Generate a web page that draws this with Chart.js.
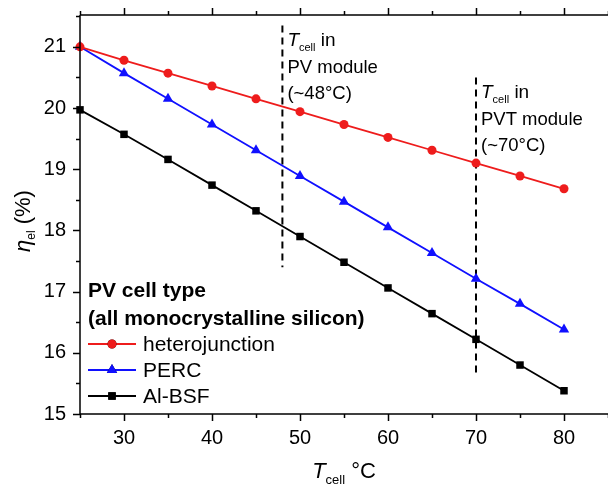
<!DOCTYPE html>
<html>
<head>
<meta charset="utf-8">
<script src="https://cdn.jsdelivr.net/npm/chart.js@4/dist/chart.umd.min.js"></script>
<style>
html, body { margin: 0; padding: 0; background: #fff; }
#wrap { width: 608px; height: 484px; position: relative; }
</style>
</head>
<body>
<div id="wrap"><canvas id="chart"></canvas></div>
<script>
'use strict';

// data
const temps = [25, 30, 35, 40, 45, 50, 55, 60, 65, 70, 75, 80];
const heteroValues = [21.0, 20.78, 20.57, 20.36, 20.15, 19.94, 19.73, 19.52, 19.31, 19.10, 18.89, 18.68];
const percValues = [21.0, 20.57, 20.15, 19.73, 19.31, 18.89, 18.47, 18.05, 17.63, 17.21, 16.80, 16.38];
const alBsfValues = [19.97, 19.57, 19.16, 18.74, 18.32, 17.90, 17.48, 17.06, 16.64, 16.22, 15.80, 15.38];
const seriesNames = ['heterojunction', 'PERC', 'Al-BSF'];

const markerTemps = [48, 70];
const markerTop = [21.35, 20.5];
const markerBottom = [17.4, 15.65];
const markerLines = [['in', 'PV module', '(~48°C)'], ['in', 'PVT module', '(~70°C)']];

const xTickLabels = [30, 40, 50, 60, 70, 80];
const yTickLabels = [15, 16, 17, 18, 19, 20, 21];

const colors = { hetero: '#ee1c1c', perc: '#1010ff', bsf: '#000000' };
const FONT = '"Liberation Sans", Arial, sans-serif';

function toPoints(values) {
    return temps.map((t, i) => ({ x: t, y: values[i] }));
}

const seriesSets = [
    { label: seriesNames[0], data: toPoints(heteroValues), borderColor: colors.hetero, backgroundColor: colors.hetero, pointStyle: 'circle', pointRadius: 4.5 },
    { label: seriesNames[1], data: toPoints(percValues), borderColor: colors.perc, backgroundColor: colors.perc, pointStyle: 'triangle', pointRadius: 6 },
    { label: seriesNames[2], data: toPoints(alBsfValues), borderColor: colors.bsf, backgroundColor: colors.bsf, pointStyle: 'rect', pointRadius: 5.3 }
].map(d => ({ ...d, borderWidth: 1.8, pointBorderWidth: 0, clip: false, tension: 0 }));

const markerSets = markerTemps.map((t, i) => ({
    label: 'marker' + i,
    data: [{ x: t, y: markerTop[i] }, { x: t, y: markerBottom[i] }],
    borderColor: '#000',
    borderWidth: 2,
    borderDash: [7, 5],
    pointRadius: 0,
    clip: false
}));

// draws several font runs on one baseline
function drawRuns(ctx, x, y, runs, align) {
    let total = 0;
    runs.forEach(r => { ctx.font = r.font; total += ctx.measureText(r.text).width; });
    let cx = align === 'center' ? x - total / 2 : x;
    runs.forEach(r => {
        ctx.font = r.font;
        ctx.fillText(r.text, cx, y + (r.dy || 0));
        cx += ctx.measureText(r.text).width;
    });
}

const framePlugin = {
    id: 'frame',
    afterDraw(chart) {
        const ctx = chart.ctx;
        const xs = chart.scales.x, ys = chart.scales.y;
        const area = chart.chartArea;
        ctx.save();
        ctx.strokeStyle = '#000';
        ctx.fillStyle = '#000';
        ctx.lineWidth = 1.5;

        // axis lines
        ctx.beginPath();
        ctx.moveTo(area.left, area.top); ctx.lineTo(chart.width, area.top);
        ctx.moveTo(area.left, area.top); ctx.lineTo(area.left, area.bottom);
        ctx.moveTo(area.left, area.bottom); ctx.lineTo(chart.width, area.bottom);
        ctx.stroke();

        // x ticks, bottom and top
        ctx.beginPath();
        for (let v = 25; v <= xs.max; v += 5) {
            const px = Math.round(xs.getPixelForValue(v)) + 0.5;
            const len = v % 10 === 0 ? 7 : 4;
            ctx.moveTo(px, area.bottom); ctx.lineTo(px, area.bottom + len);
            ctx.moveTo(px, area.top); ctx.lineTo(px, area.top - len);
        }
        // y ticks
        for (let v = 15; v <= ys.max; v += 0.5) {
            const py = Math.round(ys.getPixelForValue(v)) + 0.5;
            const len = Number.isInteger(v) ? 7 : 4;
            ctx.moveTo(area.left, py); ctx.lineTo(area.left - len, py);
        }
        ctx.stroke();

        // annotations next to the dashed lines
        ctx.textBaseline = 'alphabetic';
        ctx.textAlign = 'left';
        markerTemps.forEach((t, i) => {
            const px = xs.getPixelForValue(t) + 5;
            const py = ys.getPixelForValue(markerTop[i]) + 21;
            drawRuns(ctx, px, py, [
                { text: 'T', font: 'italic 19px ' + FONT },
                { text: 'cell', font: '11px ' + FONT, dy: 5 },
                { text: ' ' + markerLines[i][0], font: '19px ' + FONT }
            ]);
            ctx.font = '18.5px ' + FONT;
            ctx.fillText(markerLines[i][1], px, py + 26.5);
            ctx.fillText(markerLines[i][2], px, py + 53);
        });

        // legend
        const lx = area.left + 8;
        ctx.font = 'bold 21px ' + FONT;
        ctx.fillText('PV cell type', lx, 297);
        ctx.fillText('(all monocrystalline silicon)', lx, 325);
        seriesSets.forEach((d, i) => {
            const cy = 344 + i * 26;
            ctx.strokeStyle = d.borderColor;
            ctx.lineWidth = 1.8;
            ctx.beginPath();
            ctx.moveTo(lx, cy); ctx.lineTo(lx + 48, cy);
            ctx.stroke();
            Chart.helpers.drawPoint(ctx, {
                pointStyle: d.pointStyle, radius: d.pointRadius, borderWidth: 0, rotation: 0
            }, lx + 24, cy);
            ctx.fillStyle = d.borderColor;
            ctx.fill();
            ctx.fillStyle = '#000';
            ctx.font = '21px ' + FONT;
            ctx.textBaseline = 'middle';
            ctx.fillText(d.label, lx + 55, cy + 1);
            ctx.textBaseline = 'alphabetic';
        });

        // x axis title
        drawRuns(ctx, 344, 478, [
            { text: 'T', font: 'italic 22px ' + FONT },
            { text: 'cell', font: '13px ' + FONT, dy: 6 },
            { text: ' °C', font: '22px ' + FONT }
        ], 'center');

        // y axis title
        ctx.translate(30, 221);
        ctx.rotate(-Math.PI / 2);
        drawRuns(ctx, 0, 0, [
            { text: 'η', font: 'italic 22px ' + FONT },
            { text: 'el', font: '12px ' + FONT, dy: 5 },
            { text: ' (%)', font: '22px ' + FONT }
        ], 'center');
        ctx.restore();
    }
};

new Chart(document.getElementById('chart'), {
    type: 'line',
    data: { datasets: [...seriesSets, ...markerSets] },
    options: {
        responsive: true,
        maintainAspectRatio: false,
        animation: false,
        layout: { autoPadding: false, padding: { top: 15, right: 0, left: 0, bottom: 0 } },
        plugins: { legend: { display: false }, tooltip: { enabled: false } },
        scales: {
            x: {
                type: 'linear',
                min: 25,
                max: 85,
                grid: { display: false, drawTicks: false },
                border: { display: false },
                afterFit: s => { s.height = 70; s.paddingLeft = 0; s.paddingRight = 0; },
                ticks: {
                    stepSize: 5,
                    autoSkip: false,
                    maxRotation: 0,
                    padding: 12,
                    color: '#000',
                    font: { family: FONT, size: 20 },
                    callback: v => xTickLabels.includes(v) ? String(v) : ''
                }
            },
            y: {
                type: 'linear',
                min: 15,
                max: 21.52,
                grid: { display: false, drawTicks: false },
                border: { display: false },
                afterFit: s => { s.width = 80; s.paddingTop = 0; s.paddingBottom = 0; },
                ticks: {
                    stepSize: 0.5,
                    autoSkip: false,
                    padding: 14,
                    color: '#000',
                    font: { family: FONT, size: 20 },
                    callback: v => yTickLabels.includes(v) ? String(v) : ''
                }
            }
        }
    },
    plugins: [framePlugin]
});
</script>
</body>
</html>
